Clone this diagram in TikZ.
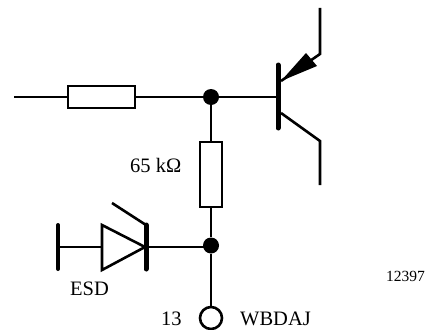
\documentclass[tikz,border=0pt]{standalone}
\usepackage{fontspec}
\setmainfont{Liberation Serif}
\tikzset{
  wire/.style={line width=2.6pt,line cap=butt,line join=miter,black},
  thickbar/.style={line width=5pt,line cap=round,black},
  res/.style={draw=black,line width=2.6pt,fill=white,minimum width=0pt,minimum height=0pt,inner sep=0pt,rectangle},
  junction/.style={circle,fill=black,inner sep=0pt,minimum size=16pt},
  term/.style={circle,draw=black,line width=2.6pt,fill=white,inner sep=0pt,minimum size=22pt},
  lab/.style={inner sep=0pt,font=\fontsize{20.5}{24}\selectfont,text=black},
  smalllab/.style={inner sep=0pt,font=\fontsize{15.5}{18}\selectfont,text=black}
}
\begin{document}
\begin{tikzpicture}[x=1pt,y=-1pt]
\useasboundingbox (0,0) rectangle (427,329);
\coordinate (in) at (14,97);
\coordinate (base) at (277,97);
\node[junction] (j1) at (211,97) {};
\node[junction] (j2) at (211,245.5) {};
\node[term] (t) at (211,318) {};
\node[res,minimum width=67pt,minimum height=22pt] (r1) at (101.5,97) {};
\node[res,minimum width=22pt,minimum height=65pt] (r2) at (211,174.5) {};
% wires
\draw[wire] (in) -- (r1.west);
\draw[wire] (r1.east) -- (j1);
\draw[wire] (j1) -- (base);
\draw[wire] (j1) -- (r2.north);
\draw[wire] (r2.south) -- (j2);
\draw[wire] (j2) -- (t);
% transistor
\coordinate (bt) at (278,65);
\coordinate (bb) at (278,128);
\draw[thickbar] (bt) -- (bb);
\coordinate (e1) at (281,81);
\coordinate (e2) at (320,54);
\coordinate (e3) at (320,8);
\coordinate (c1) at (281,113);
\coordinate (c2) at (320,141);
\coordinate (c3) at (320,185);
\draw[wire] (e1) -- (e2) -- (e3);
\draw[wire] (c1) -- (c2) -- (c3);
\coordinate (a1) at (306,53);
\coordinate (a2) at (317,66);
\fill[black] (e1) -- (a1) -- (a2) -- cycle;
% diode
\coordinate (dl1) at (58,225);
\coordinate (dl2) at (58,269);
\draw[thickbar,line width=4pt] (dl1) -- (dl2);
\coordinate (da) at (58,247);
\coordinate (dj) at (211,247);
\draw[wire] (da) -- (dj);
\coordinate (tr1) at (102,225);
\coordinate (tr2) at (102,270);
\coordinate (tr3) at (145,247);
\draw[wire,fill=white] (tr1) -- (tr2) -- (tr3) -- cycle;
\coordinate (db1) at (146,225);
\coordinate (db2) at (146,269);
\draw[thickbar] (db1) -- (db2);
\coordinate (st) at (112,203);
\draw[wire] (db1) -- (st);
% labels
\node[lab,anchor=base west] (l65) at (130,172) {65 kΩ};
\node[lab,anchor=base west] (lesd) at (70,295) {ESD};
\node[lab,anchor=base west] (l13) at (161,325) {13};
\node[lab,anchor=base west] (lw) at (240,325) {WBDAJ};
\node[smalllab,anchor=base west] (ln) at (386,281) {12397};
\end{tikzpicture}
\end{document}
